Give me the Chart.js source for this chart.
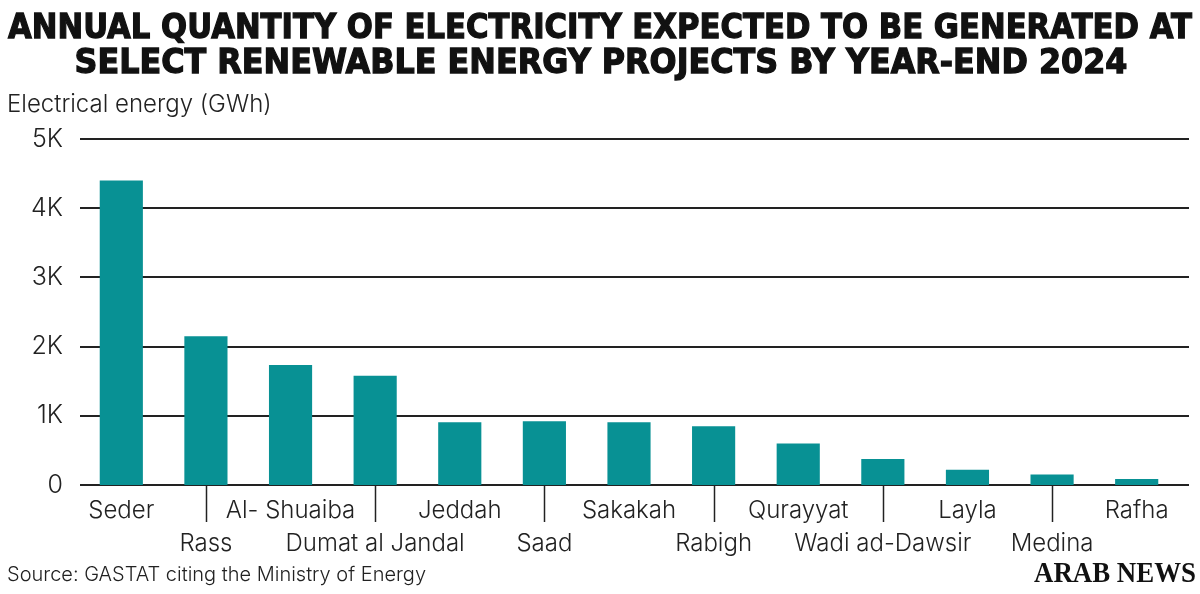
<!DOCTYPE html>
<html>
<head>
<meta charset="utf-8">
<script src="https://cdn.jsdelivr.net/npm/chart.js@4/dist/chart.umd.min.js"></script>
<style>
  html, body { margin: 0; padding: 0; background: #fff; }
  #wrap { width: 1200px; height: 594px; }
</style>
</head>
<body>
<div id="wrap"><canvas id="energy"></canvas></div>
<script>
const projects = ['Seder', 'Rass', 'Al- Shuaiba', 'Dumat al Jandal', 'Jeddah', 'Saad', 'Sakakah',
  'Rabigh', 'Qurayyat', 'Wadi ad-Dawsir', 'Layla', 'Medina', 'Rafha'];
const energyGWh = [4400, 2150, 1735, 1580, 905, 920, 908, 850, 600, 375, 222, 150, 88];
const yTicks = [0, 1000, 2000, 3000, 4000, 5000];
const titleLines = ['ANNUAL QUANTITY OF ELECTRICITY EXPECTED TO BE GENERATED AT',
  'SELECT RENEWABLE ENERGY PROJECTS BY YEAR-END 2024'];
const axisTitle = 'Electrical energy (GWh)';
const sourceNote = 'Source: GASTAT citing the Ministry of Energy';
const brand = 'ARAB NEWS';

const ink = '#222';
const labelFont = 'Inter, "Open Sans", sans-serif';

// grid lines run a bit past the plot, drawn under the bars
const gridLines = {
  id: 'gridLines',
  beforeDatasetsDraw(chart) {
    const { ctx, scales: { y }, chartArea } = chart;
    ctx.save();
    ctx.strokeStyle = ink;
    ctx.lineWidth = 2;
    yTicks.forEach(v => {
      const py = Math.round(y.getPixelForValue(v));
      ctx.beginPath();
      ctx.moveTo(chartArea.left + 1, py);
      ctx.lineTo(chartArea.right + 10, py);
      ctx.stroke();
    });
    ctx.restore();
  }
};

// tick marks under every second bar, plus the texts around the chart
const decor = {
  id: 'decor',
  afterDraw(chart) {
    const { ctx, scales: { x, y } } = chart;
    ctx.save();
    ctx.strokeStyle = ink;
    ctx.lineWidth = 1.5;
    const base = y.getPixelForValue(0);
    projects.forEach((p, i) => {
      if (i % 2 === 1) {
        const px = Math.round(x.getPixelForValue(i)) + 0.5;
        ctx.beginPath();
        ctx.moveTo(px, base + 1);
        ctx.lineTo(px, base + 37);
        ctx.stroke();
      }
    });

    ctx.fillStyle = '#111';
    ctx.strokeStyle = '#111';
    ctx.lineWidth = 1.3;
    ctx.textAlign = 'center';
    ctx.textBaseline = 'alphabetic';
    ctx.font = 'bold 34px "DejaVu Sans", sans-serif';
    ctx.fillText(titleLines[0], 600, 38, 1184);
    ctx.strokeText(titleLines[0], 600, 38, 1184);
    ctx.fillText(titleLines[1], 601, 73, 1053);
    ctx.strokeText(titleLines[1], 601, 73, 1053);

    ctx.fillStyle = ink;
    ctx.textAlign = 'left';
    ctx.font = '300 24px ' + labelFont;
    ctx.fillText(axisTitle, 7, 112, 266);
    ctx.font = '300 20px ' + labelFont;
    ctx.fillText(sourceNote, 7, 581, 421);

    ctx.fillStyle = '#111';
    ctx.textAlign = 'right';
    ctx.font = 'bold 29px "Liberation Serif", serif';
    ctx.fillText(brand, 1196, 582, 162);
    ctx.restore();
  }
};

new Chart(document.getElementById('energy'), {
  type: 'bar',
  data: {
    labels: projects,
    datasets: [{
      data: energyGWh,
      backgroundColor: '#089194',
      borderWidth: 0,
      categoryPercentage: 1,
      barPercentage: 0.51
    }]
  },
  options: {
    responsive: true,
    maintainAspectRatio: false,
    animation: false,
    layout: { padding: { top: 139, right: 21, bottom: 9, left: 0 } },
    plugins: {
      legend: { display: false },
      tooltip: { enabled: false }
    },
    scales: {
      x: {
        grid: { display: false, drawTicks: false },
        border: { display: false },
        ticks: {
          padding: 9,
          autoSkip: false,
          maxRotation: 0,
          color: ink,
          font: { family: labelFont, size: 24, weight: 300, lineHeight: 1.375 },
          callback: (v, i) => (i % 2 === 1 ? ['', projects[i]] : [projects[i]])
        },
        afterFit: s => { s.height = 100; }
      },
      y: {
        min: 0,
        max: 5000,
        grid: { display: false, drawTicks: false },
        border: { display: false },
        afterBuildTicks: s => { s.ticks = yTicks.map(v => ({ value: v })); },
        afterFit: s => { s.width = 79; },
        ticks: {
          padding: 16,
          color: ink,
          font: { family: labelFont, size: 25, weight: 300 },
          callback: v => (v === 0 ? '0' : (v / 1000) + 'K')
        }
      }
    }
  },
  plugins: [gridLines, decor]
});
</script>
</body>
</html>
